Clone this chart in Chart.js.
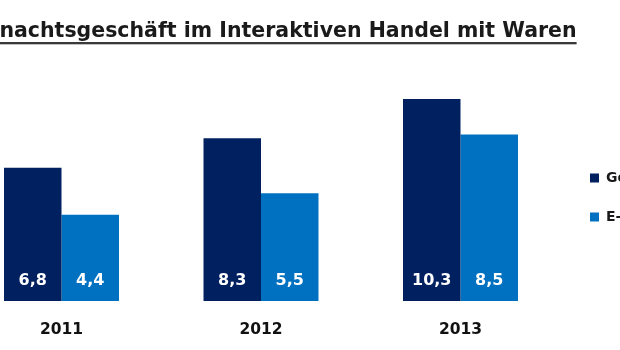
<!DOCTYPE html>
<html>
<head>
<meta charset="utf-8">
<script src="https://cdn.jsdelivr.net/npm/chart.js@4/dist/chart.umd.min.js"></script>
<style>
html, body { margin: 0; padding: 0; background: #fff; overflow: hidden; width: 620px; height: 350px; }
#wrap { position: absolute; left: -58px; top: 0; width: 743px; height: 395px; }
</style>
</head>
<body>
<div id="wrap"><canvas id="c" width="743" height="395"></canvas></div>
<script>
const chartTitle = 'Weihnachtsgeschäft im Interaktiven Handel mit Waren';
const categories = ['2011', '2012', '2013'];
const seriesNames = ['Gesamt', 'E-Commerce'];
const gesamt = [6.8, 8.3, 10.3];
const eCommerce = [4.4, 5.5, 8.5];
const yMax = 12;

const FONT = 'DejaVu Sans';
const fmt = v => v.toFixed(1).replace('.', ',');

const valueLabels = {
  id: 'valueLabels',
  afterDatasetsDraw(chart) {
    const ctx = chart.ctx;
    ctx.save();
    ctx.font = 'bold 16px "' + FONT + '"';
    ctx.fillStyle = '#ffffff';
    ctx.textAlign = 'center';
    ctx.textBaseline = 'middle';
    chart.data.datasets.forEach((ds, i) => {
      chart.getDatasetMeta(i).data.forEach((bar, j) => {
        ctx.fillText(fmt(ds.data[j]), bar.x, bar.base - 20);
      });
    });
    ctx.restore();
  }
};

const titleUnderline = {
  id: 'titleUnderline',
  afterDraw(chart) {
    const tb = chart.titleBlock;
    const opts = chart.options.plugins.title;
    const ctx = chart.ctx;
    ctx.save();
    ctx.font = 'bold ' + opts.font.size + 'px "' + FONT + '"';
    const w = ctx.measureText(opts.text).width;
    ctx.strokeStyle = '#3a3a3a';
    ctx.lineWidth = 2;
    ctx.beginPath();
    ctx.moveTo(tb.left, 43);
    ctx.lineTo(tb.left + w, 43);
    ctx.stroke();
    ctx.strokeStyle = 'rgba(150,150,150,0.6)';
    ctx.lineWidth = 1;
    ctx.beginPath();
    ctx.moveTo(tb.left, 44.5);
    ctx.lineTo(tb.left + w, 44.5);
    ctx.stroke();
    ctx.restore();
  }
};

new Chart(document.getElementById('c'), {
  type: 'bar',
  data: {
    labels: categories,
    datasets: [
      { label: seriesNames[0], data: gesamt, backgroundColor: '#002060', borderWidth: 0,
        categoryPercentage: 0.5764, barPercentage: 1.0 },
      { label: seriesNames[1], data: eCommerce, backgroundColor: '#0070C0', borderWidth: 0,
        categoryPercentage: 0.5764, barPercentage: 1.0 }
    ]
  },
  options: {
    responsive: false,
    devicePixelRatio: 1,
    animation: false,
    layout: { padding: 0 },
    plugins: {
      title: {
        display: true,
        text: chartTitle,
        align: 'start',
        color: '#1a1a1a',
        font: { family: FONT, size: 20.5, weight: 'bold', lineHeight: 1.2 },
        padding: { top: 19.6, bottom: 21.6 }
      },
      legend: {
        position: 'right',
        maxWidth: 120,
        labels: {
          boxWidth: 9,
          boxHeight: 9,
          padding: 25,
          color: '#1a1a1a',
          font: { family: FONT, size: 14, weight: 'bold' }
        }
      },
      tooltip: { enabled: false }
    },
    scales: {
      x: {
        grid: { display: false, drawTicks: false },
        border: { display: false },
        ticks: { color: '#111111', padding: 19.7, font: { family: FONT, size: 15.5, weight: 'bold' } },
        afterFit: s => { s.height = 94; }
      },
      y: {
        type: 'linear',
        position: 'left',
        min: 0,
        max: yMax,
        grid: { display: false, drawTicks: false },
        border: { display: false },
        ticks: { display: false },
        afterFit: s => { s.width = 19.75; }
      },
      y2: {
        type: 'linear',
        position: 'right',
        grid: { display: false, drawTicks: false },
        border: { display: false },
        ticks: { display: false },
        afterFit: s => { s.width = 4.75; }
      }
    }
  },
  plugins: [valueLabels, titleUnderline]
});
</script>
</body>
</html>
